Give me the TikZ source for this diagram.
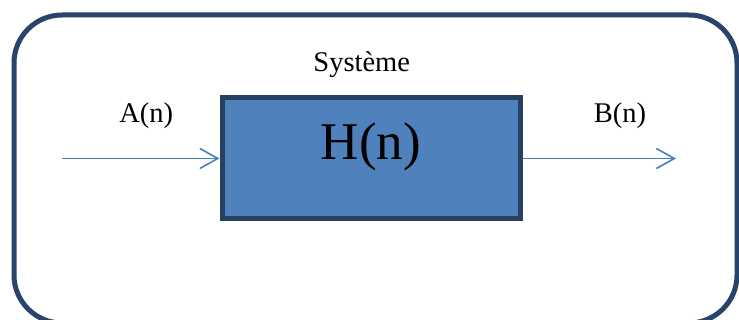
\documentclass[tikz,border=0pt]{standalone}
\usepackage{fontspec}
\setmainfont{Liberation Serif}
\usetikzlibrary{arrows.meta}
\definecolor{frameblue}{RGB}{40,68,106}
\definecolor{boxfill}{RGB}{79,129,189}
\definecolor{boxedge}{RGB}{38,64,98}
\definecolor{flowblue}{RGB}{74,126,187}
\tikzset{
  lbl/.style={anchor=base, inner sep=0pt, font=\fontsize{28.5}{34}\selectfont},
  bigtxt/.style={anchor=base, inner sep=0pt, font=\fontsize{53}{62}\selectfont},
  block/.style={draw=boxedge, line width=5pt, fill=boxfill, rectangle,
    minimum width=298pt, minimum height=121pt, inner sep=0pt},
  flow/.style={draw=flowblue, line width=1.6pt,
    -{Straight Barb[length=18pt, width=20pt, line width=1.6pt]}},
}
\begin{document}
\begin{tikzpicture}[x=1pt, y=-1pt]
  \useasboundingbox (0,0) rectangle (739,320);
  \clip (0,0) rectangle (739,320);
  % system frame, its lower edge just below the page
  \draw[frameblue, line width=5pt, rounded corners=48pt] (14,15) rectangle (737,323);
  \node[lbl] (sys) at (361.7,71.7) {Système};
  % transfer block
  \node[block] (h) at (371,158.5) {};
  \node[bigtxt] (htxt) at (370.8,160) {H(n)};
  % input and output
  \coordinate (in) at (62,158.5);
  \coordinate (out) at (676,158.5);
  \draw[flow] (in) -- (h.west);
  \draw[flow] (h.east) -- (out);
  \node[lbl] (a) at (146.3,122.5) {A(n)};
  \node[lbl] (b) at (620,122.5) {B(n)};
\end{tikzpicture}
\end{document}
